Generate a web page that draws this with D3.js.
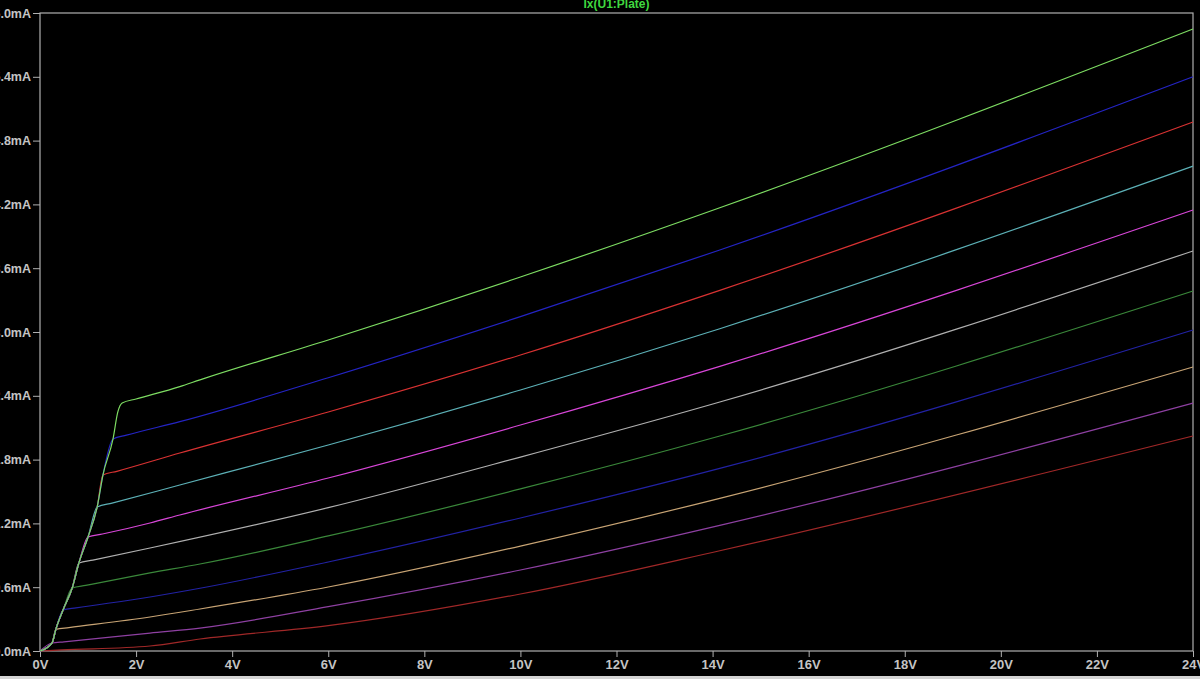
<!DOCTYPE html>
<html>
<head>
<meta charset="utf-8">
<script src="https://cdn.jsdelivr.net/npm/d3@7"></script>
<style>
  html, body { margin: 0; padding: 0; background: #000; }
  svg { display: block; }
  text { font-family: "Liberation Sans", Arial, sans-serif; font-weight: bold; }
</style>
</head>
<body>
<svg id="chart" width="1200" height="679"></svg>
<script>
// ---- data (Vplate in volts, Iplate in mA) ----
const title = "Ix(U1:Plate)";
const xTicks = [0, 2, 4, 6, 8, 10, 12, 14, 16, 18, 20, 22, 24];
const yTicks = [0, 0.6, 1.2, 1.8, 2.4, 3.0, 3.6, 4.2, 4.8, 5.4, 6.0];

const curveGreen = [[0,0],[0.25,0.075],[0.33,0.204],[0.48,0.386],[0.67,0.592],[0.81,0.828],[1.0,1.072],[1.19,1.354],[1.31,1.655],[1.52,1.994],[1.62,2.248],[1.71,2.332],[2.0,2.37],[2.91,2.486],[3.33,2.55],[6,2.925],[10,3.517],[14.15,4.169],[24,5.85]];
const curveBlue = [[0,0],[0.25,0.075],[0.33,0.204],[0.48,0.386],[0.67,0.592],[0.81,0.828],[1.0,1.072],[1.19,1.354],[1.31,1.655],[1.52,1.994],[1.8,2.03],[2.91,2.157],[6,2.570],[10,3.144],[14.15,3.771],[24,5.40]];
const curveRed = [[0,0],[0.25,0.075],[0.33,0.204],[0.48,0.386],[0.67,0.592],[0.81,0.828],[1.0,1.072],[1.19,1.354],[1.31,1.655],[1.6,1.69],[2.91,1.862],[6,2.248],[10,2.784],[14.15,3.392],[24,4.975]];
const curveTeal = [[0,0],[0.25,0.075],[0.33,0.204],[0.48,0.386],[0.67,0.592],[0.81,0.828],[1.0,1.072],[1.19,1.354],[1.5,1.39],[2.91,1.561],[6,1.937],[10,2.455],[14.15,3.031],[24,4.56]];
const curveMagenta = [[0,0],[0.25,0.075],[0.33,0.204],[0.48,0.386],[0.67,0.592],[0.81,0.828],[1.0,1.072],[1.3,1.10],[2.29,1.204],[2.91,1.279],[6,1.627],[10,2.125],[14.15,2.677],[24,4.147]];
const curveGray = [[0,0],[0.25,0.075],[0.33,0.204],[0.48,0.386],[0.67,0.592],[0.81,0.828],[1.1,0.855],[2.29,0.969],[6,1.348],[10,1.824],[14.15,2.342],[24,3.762]];
const curveDarkGreen = [[0,0],[0.25,0.075],[0.33,0.204],[0.48,0.386],[0.67,0.592],[0.95,0.617],[2.29,0.734],[3.33,0.818],[6,1.082],[10,1.524],[14.15,2.022],[24,3.386]];
const curveDarkBlue = [[0,0],[0.25,0.075],[0.33,0.204],[0.48,0.386],[0.75,0.405],[2.29,0.508],[3.33,0.59],[6,0.837],[10,1.251],[14.15,1.718],[24,3.019]];
const curveTan = [[0,0],[0.25,0.075],[0.33,0.204],[0.6,0.22],[2.29,0.32],[3.33,0.395],[6,0.602],[10,0.987],[14.15,1.436],[24,2.671]];
const curvePurple = [[0,0],[0.25,0.075],[0.5,0.086],[2.29,0.169],[3.33,0.216],[6,0.417],[10,0.762],[14.15,1.182],[24,2.332]];
const curveDarkRed = [[0,0],[0.45,0.01],[2.29,0.047],[3.33,0.113],[6,0.238],[10,0.536],[14.15,0.943],[24,2.022]];

const seriesList = [curveGreen, curveBlue, curveRed, curveTeal, curveMagenta, curveGray,
                    curveDarkGreen, curveDarkBlue, curveTan, curvePurple, curveDarkRed];
const seriesColors = ["#7ddc62", "#2424c4", "#d83232", "#5cb0b6", "#d846d8", "#b0b0b0",
                      "#3a883a", "#2222a4", "#c8a474", "#8e40a2", "#a02828"];

// ---- layout ----
const svg = d3.select("#chart");
const plotLeft = 40, plotRight = 1193, plotTop = 13, plotBottom = 651;
const x = d3.scaleLinear().domain([0, 24]).range([plotLeft, plotRight]);
const y = d3.scaleLinear().domain([0, 6]).range([plotBottom, plotTop]);
const axisColor = "#b0b0b0";
const textColor = "#c4c4c4";

svg.append("rect").attr("width", 1200).attr("height", 679).attr("fill", "#000");

// frame
svg.append("rect")
  .attr("x", plotLeft).attr("y", plotTop)
  .attr("width", plotRight - plotLeft).attr("height", plotBottom - plotTop)
  .attr("fill", "none").attr("stroke", axisColor).attr("stroke-width", 1.2);

// x axis
const gx = svg.append("g").attr("transform", `translate(0,${plotBottom})`)
  .call(d3.axisBottom(x).tickValues(xTicks).tickFormat(d => d + "V").tickSize(6).tickPadding(3));
gx.select(".domain").remove();
gx.selectAll("line").attr("stroke", axisColor);
gx.selectAll("text").attr("fill", textColor).attr("font-size", 13);

// y axis
const gy = svg.append("g").attr("transform", `translate(${plotLeft},0)`)
  .call(d3.axisLeft(y).tickValues(yTicks).tickFormat(d => d3.format(".1f")(d) + "mA").tickSize(7).tickPadding(2));
gy.select(".domain").remove();
gy.selectAll("line").attr("stroke", axisColor);
gy.selectAll("text").attr("fill", textColor).attr("font-size", 12.5);

// curves
const line = d3.line().x(d => x(d[0])).y(d => y(d[1])).curve(d3.curveMonotoneX);
svg.append("g").selectAll("path")
  .data(seriesList.map((s, i) => ({ s, c: seriesColors[i] })).reverse())
  .join("path")
  .attr("d", d => line(d.s))
  .attr("fill", "none")
  .attr("stroke", d => d.c)
  .attr("stroke-width", 1.2);

// title
svg.append("text")
  .attr("x", (plotLeft + plotRight) / 2).attr("y", 8)
  .attr("text-anchor", "middle")
  .attr("fill", "#3fd83f").attr("font-size", 12)
  .text(title);

// screen bottom edge
svg.append("rect").attr("x", 0).attr("y", 676).attr("width", 1200).attr("height", 3).attr("fill", "#d4d4d4");
</script>
</body>
</html>
